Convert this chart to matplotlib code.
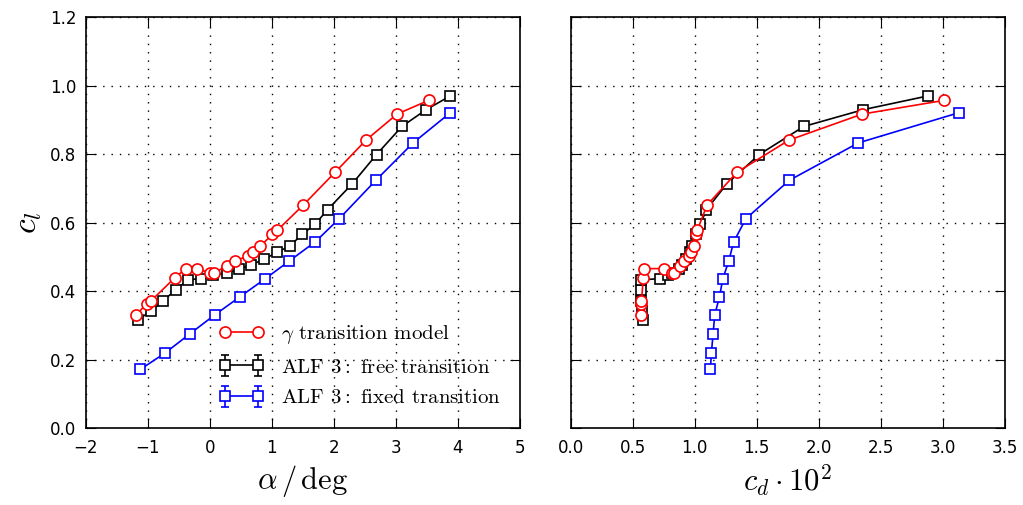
import numpy as np
import matplotlib
matplotlib.use('Agg')
import matplotlib.pyplot as plt

# gamma transition model (red)
alpha_gam = [-1.19, -1.02, -0.95, -0.56, -0.39, -0.20, 0.01, 0.07, 0.27, 0.41,
             0.62, 0.69, 0.81, 1.01, 1.09, 1.51, 2.02, 2.52, 3.02, 3.53]
cl_gam = [0.330, 0.364, 0.372, 0.440, 0.466, 0.466, 0.452, 0.454, 0.473, 0.489,
          0.503, 0.514, 0.531, 0.566, 0.578, 0.652, 0.747, 0.841, 0.917, 0.957]
cd_gam = [0.57, 0.57, 0.57, 0.585, 0.59, 0.75, 0.82, 0.83, 0.877, 0.917,
          0.955, 0.97, 0.99, 1.01, 1.02, 1.10, 1.34, 1.76, 2.35, 3.01]

# ALF 3 free transition (black)
alpha_free = [-1.16, -0.95, -0.75, -0.55, -0.35, -0.15, 0.05, 0.27, 0.47, 0.67, 0.88,
              1.09, 1.29, 1.49, 1.70, 1.90, 2.30, 2.69, 3.10, 3.49, 3.88]
cl_free = [0.317, 0.342, 0.372, 0.405, 0.433, 0.437, 0.447, 0.453, 0.465, 0.477, 0.494,
           0.514, 0.532, 0.566, 0.596, 0.638, 0.714, 0.799, 0.881, 0.930, 0.970]
cd_free = [0.585, 0.575, 0.57, 0.57, 0.57, 0.72, 0.78, 0.82, 0.87, 0.90, 0.93,
           0.96, 0.98, 1.006, 1.046, 1.094, 1.26, 1.52, 1.88, 2.36, 2.88]

# ALF 3 fixed transition (blue)
alpha_fix = [-1.12, -0.72, -0.32, 0.08, 0.48, 0.89, 1.28, 1.70, 2.09, 2.68, 3.28, 3.88]
cl_fix = [0.172, 0.220, 0.276, 0.331, 0.383, 0.436, 0.488, 0.544, 0.612, 0.724, 0.833, 0.921]
cd_fix = [1.126, 1.134, 1.148, 1.161, 1.199, 1.226, 1.274, 1.314, 1.413, 1.764, 2.32, 3.13]

plt.rcParams['mathtext.fontset'] = 'cm'
plt.rcParams['font.family'] = 'DejaVu Sans'
plt.rcParams['xtick.direction'] = 'in'
plt.rcParams['ytick.direction'] = 'in'
plt.rcParams['xtick.top'] = True
plt.rcParams['ytick.right'] = True
plt.rcParams['xtick.major.size'] = 7
plt.rcParams['ytick.major.size'] = 7

fig, (ax1, ax2) = plt.subplots(1, 2, figsize=(10.23, 5.05), dpi=100, sharey=True)
fig.subplots_adjust(left=0.084, right=0.982, top=0.966, bottom=0.152, wspace=0.118)

red_kw = dict(color='red', mfc='white', mec='red', ms=8, mew=1.2, lw=1.2)
blk_kw = dict(fmt='-s', color='black', mfc='white', mec='black', ms=7, mew=1.2,
              lw=1.2, capsize=3, elinewidth=1.2)
blu_kw = dict(fmt='-s', color='blue', mfc='white', mec='blue', ms=7, mew=1.2,
              lw=1.2, capsize=3, elinewidth=1.2)

h_gam, = ax1.plot(alpha_gam, cl_gam, '-o', zorder=3, **red_kw)
ax1.errorbar(alpha_free, cl_free, xerr=0.03, zorder=2, **blk_kw)
ax1.errorbar(alpha_fix, cl_fix, xerr=0.03, zorder=2, **blu_kw)

ax2.plot(cd_gam, cl_gam, '-o', zorder=3, **red_kw)
ax2.errorbar(cd_free, cl_free, xerr=0.015, zorder=2, **blk_kw)
ax2.errorbar(cd_fix, cl_fix, xerr=0.015, zorder=2, **blu_kw)

# legend proxies (vertical error bars as in the original legend)
h_free = ax1.errorbar([np.nan], [np.nan], yerr=[0.01], **blk_kw)
h_fix = ax1.errorbar([np.nan], [np.nan], yerr=[0.01], **blu_kw)

for ax in (ax1, ax2):
    ax.grid(True, color='black', linestyle=(0, (1, 5)), linewidth=1)
    ax.tick_params(labelsize=12)
    ax.tick_params(axis='x', pad=8)
    ax.tick_params(axis='y', pad=7)
    for s in ax.spines.values():
        s.set_linewidth(1.2)

ax1.set_xlim(-2, 5)
ax1.set_ylim(0, 1.2)
ax1.set_xticks(np.arange(-2, 6, 1))
ax1.set_yticks(np.arange(0, 1.21, 0.2))
ax1.set_xticklabels(['\u22122', '\u22121', '0', '1', '2', '3', '4', '5'])
ax2.set_xlim(0, 3.5)
ax2.set_xticks(np.arange(0, 3.51, 0.5))
ax2.tick_params(labelleft=False)

ax1.set_ylabel(r'$c_l$', fontsize=24)
ax1.set_xlabel(r'$\alpha\,/\,\mathrm{deg}$', fontsize=22)
ax2.set_xlabel(r'$c_d \cdot 10^2$', fontsize=22)

ax1.legend([h_gam, h_free, h_fix],
           [r'$\gamma$ transition model', r'ALF $3:$ free transition',
            r'ALF $3:$ fixed transition'],
           loc='lower left', bbox_to_anchor=(0.262, 0.005), frameon=False,
           prop={'family': 'cmr10', 'size': 15}, numpoints=2, handlelength=2.2,
           handletextpad=0.8, labelspacing=0.58)

fig.savefig('out.png', dpi=100)
